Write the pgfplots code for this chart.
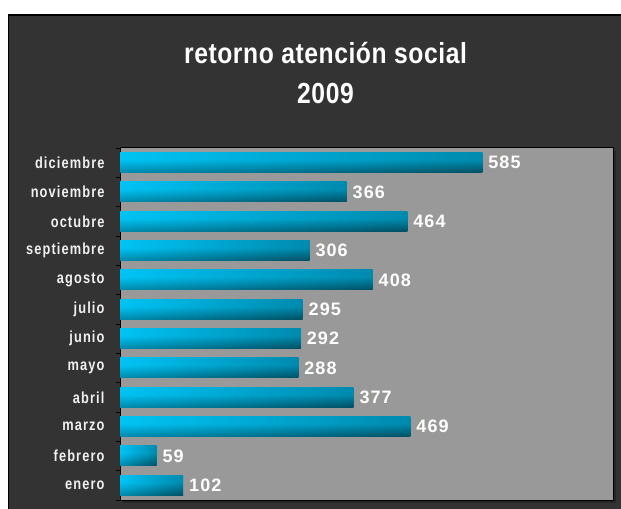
\documentclass[border=0pt]{standalone}
\usepackage{fontspec}
\usepackage{pgfplots}
\pgfplotsset{compat=1.18}
\newfontfamily\titlefont[FakeStretch=0.85,LetterSpace=2]{Liberation Sans}
\newfontfamily\catfont[FakeStretch=0.8,LetterSpace=7]{Liberation Sans}
\newfontfamily\valfont[LetterSpace=6]{Liberation Sans}
\definecolor{darkbg}{HTML}{333333}
\definecolor{plotbg}{HTML}{999999}
\definecolor{barlight}{HTML}{00CCFF}
\definecolor{barmid}{HTML}{0094B8}
\definecolor{bardark}{HTML}{005468}
\definecolor{hleft}{HTML}{00BCEB}
\definecolor{hright}{HTML}{004A5E}
\pgfdeclareverticalshading{barshade}{100bp}{color(0bp)=(bardark); color(25bp)=(bardark); color(42bp)=(barmid); color(58bp)=(barlight); color(75bp)=(barlight); color(100bp)=(barlight)}
\begin{document}
\begin{tikzpicture}
\path[use as bounding box] (0,0) rectangle (621bp,509bp);
\fill[white] (0,0) rectangle (621bp,509bp);
\filldraw[fill=darkbg, draw=black, line width=1.5bp] (8.5bp,-5bp) rectangle (630bp,494bp);
\fill[black!85] (123bp,6bp) rectangle (616bp,358bp);
\node[font=\titlefont\bfseries\fontsize{29bp}{29bp}\selectfont, text=white, anchor=base] at (325.5bp,445bp) {retorno atención social};
\node[font=\titlefont\bfseries\fontsize{29bp}{29bp}\selectfont, text=white, anchor=base] at (325.5bp,405bp) {2009};
\begin{axis}[
  at={(120bp,9bp)}, anchor=south west,
  width=493bp, height=352bp, scale only axis,
  xmin=0, xmax=796, ymin=-0.5, ymax=11.5,
  xbar, bar width=20bp, bar shift=0pt,
  axis background/.style={fill=plotbg},
  axis line style={black, line width=1bp},
  xtick=\empty,
  ytick={0,...,11},
  yticklabels={enero,febrero,marzo,abril,mayo,junio,julio,agosto,septiembre,octubre,noviembre,diciembre},
  minor ytick={-0.5,0.5,...,11.5},
  ytick pos=left,
  major tick length=0pt, minor tick length=4bp,
  tick align=outside,
  minor tick style={black, line width=0.8bp},
  yticklabel style={font=\catfont\bfseries\fontsize{16bp}{16bp}\selectfont, text=white!94!black, xshift=-12bp},
  nodes near coords,
  every node near coord/.append style={font=\valfont\bfseries\fontsize{18bp}{18bp}\selectfont, text=white, anchor=west, xshift=2.5bp},
  /pgf/number format/assume math mode=true,
  mybar/.style={draw=none, shading=barshade,
    postaction={draw=none, left color=hleft, right color=hright, fill opacity=0.5}},
]
\addplot[mybar] coordinates {(102,0)};
\addplot[mybar] coordinates {(59,1)};
\addplot[mybar] coordinates {(469,2)};
\addplot[mybar] coordinates {(377,3)};
\addplot[mybar] coordinates {(288,4)};
\addplot[mybar] coordinates {(292,5)};
\addplot[mybar] coordinates {(295,6)};
\addplot[mybar] coordinates {(408,7)};
\addplot[mybar] coordinates {(306,8)};
\addplot[mybar] coordinates {(464,9)};
\addplot[mybar] coordinates {(366,10)};
\addplot[mybar] coordinates {(585,11)};
\end{axis}
\end{tikzpicture}
\end{document}
